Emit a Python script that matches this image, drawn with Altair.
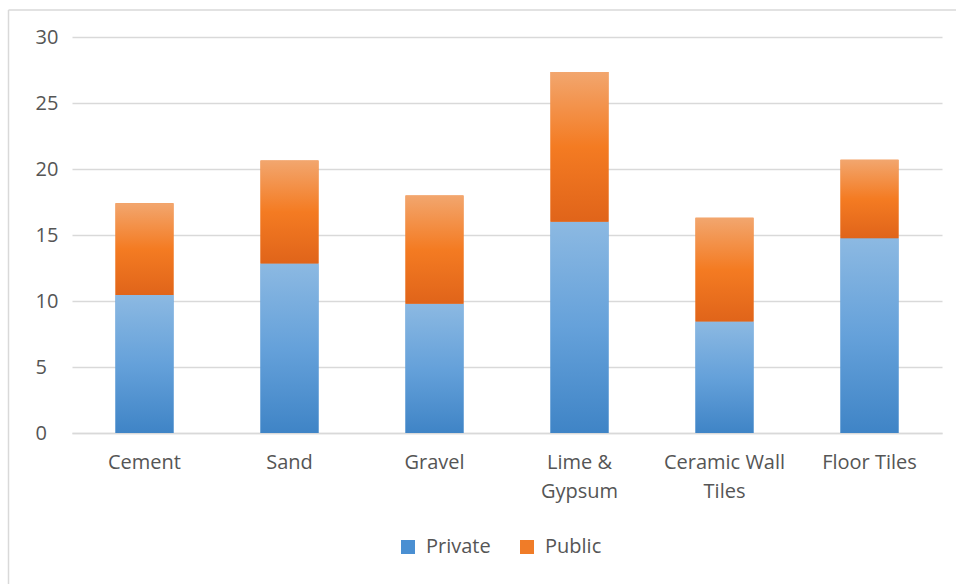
import altair as alt
import pandas as pd

categories = ["Cement", "Sand", "Gravel", "Lime & Gypsum", "Ceramic Wall Tiles", "Floor Tiles"]
private = [10.45, 12.85, 9.8, 16.0, 8.45, 14.75]
public = [6.95, 7.8, 8.2, 11.35, 7.85, 5.95]
series = ["Private", "Public"]
y_ticks = [0, 5, 10, 15, 20, 25, 30]
label_lines = {"Lime & Gypsum": ["Lime &", "Gypsum"], "Ceramic Wall Tiles": ["Ceramic Wall", "Tiles"]}

rows = []
for i, c in enumerate(categories):
    rows.append({"category": c, "series": "Private", "order": 0, "value": private[i]})
    rows.append({"category": c, "series": "Public", "order": 1, "value": public[i]})
df = pd.DataFrame(rows)

FONT = "Open Sans"
TXT = "#555555"
GRID = "#d9d9d9"

label_expr = "datum.label"
for k, v in label_lines.items():
    label_expr = f"datum.label == '{k}' ? {v!r} : ({label_expr})"

x_enc = alt.X(
    "category:N",
    sort=categories,
    scale=alt.Scale(paddingInner=0.6, paddingOuter=0.3),
    axis=alt.Axis(
        title=None, labelAngle=0, ticks=False, domainColor=GRID, domainWidth=1.5,
        labelColor=TXT, labelFont=FONT, labelFontSize=20, labelPadding=19,
        labelLineHeight=29, labelExpr=label_expr, labelLimit=300,
    ),
)
y_enc = alt.Y(
    "y0:Q",
    scale=alt.Scale(domain=[0, 30], nice=False),
    axis=alt.Axis(
        title=None, values=y_ticks, domain=False, ticks=False, tickSize=0,
        gridColor=GRID, gridWidth=1.6, labelColor=TXT, labelFont=FONT,
        labelFontSize=20, labelAlign="left", labelPadding=37,
    ),
)

base = alt.Chart(df).transform_stack(
    stack="value", groupby=["category"], as_=["y0", "y1"],
    sort=[alt.SortField("order", order="ascending")],
)

solid = base.mark_bar().encode(
    x=x_enc, y=y_enc, y2="y1:Q",
    color=alt.Color(
        "series:N",
        scale=alt.Scale(domain=series, range=["#4a8fd2", "#f07c28"]),
        legend=alt.Legend(
            title=None, orient="none", legendX=326, legendY=500, direction="horizontal",
            symbolType="square", symbolSize=196, symbolStrokeWidth=0,
            labelFont=FONT, labelFontSize=20, labelColor=TXT, labelOffset=8,
            columnPadding=26, padding=0,
        ),
    ),
)

blue_grad = alt.LinearGradient(
    gradient="linear", x1=0, x2=0, y1=0, y2=1,
    stops=[alt.GradientStop(color="#8cb9e2", offset=0),
           alt.GradientStop(color="#65a1da", offset=0.5),
           alt.GradientStop(color="#3f84c6", offset=1)],
)
orange_grad = alt.LinearGradient(
    gradient="linear", x1=0, x2=0, y1=0, y2=1,
    stops=[alt.GradientStop(color="#f2a66e", offset=0),
           alt.GradientStop(color="#f47b22", offset=0.5),
           alt.GradientStop(color="#e0641a", offset=1)],
)

priv_layer = base.transform_filter("datum.series == 'Private'").mark_bar(color=blue_grad).encode(
    x=x_enc, y=y_enc, y2="y1:Q"
)
pub_layer = base.transform_filter("datum.series == 'Public'").mark_bar(color=orange_grad).encode(
    x=x_enc, y=y_enc, y2="y1:Q"
)

frame = pd.DataFrame({"k": [0]})
top_border = alt.Chart(frame).mark_rule(color=GRID, strokeWidth=1.5).encode(
    x=alt.value(-63.5), x2=alt.value(884), y=alt.value(-27)
)
left_border = alt.Chart(frame).mark_rule(color=GRID, strokeWidth=1.5).encode(
    x=alt.value(-63.5), y=alt.value(-27), y2=alt.value(547)
)

chart = alt.layer(solid, priv_layer, pub_layer, top_border, left_border).properties(
    width=870, height=396,
    padding={"left": 72, "top": 37, "right": 14, "bottom": 151},
    autosize=alt.AutoSizeParams(type="none"),
    background="white",
).configure_view(stroke=None)

chart.save("out.html", embed_options={"renderer": "svg", "actions": False})
